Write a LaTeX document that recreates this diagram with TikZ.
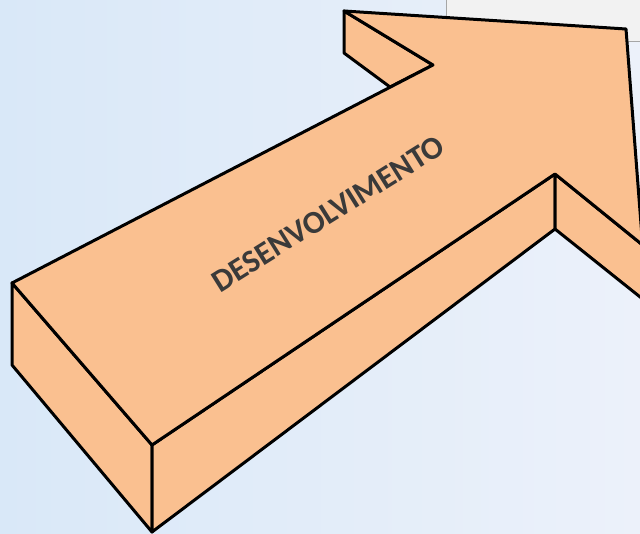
\documentclass[tikz,border=0pt]{standalone}
\usepackage{fontspec}
\setmainfont{Carlito}
\definecolor{peach}{HTML}{FAC090}
\definecolor{bgL}{HTML}{D9E8F8}
\definecolor{bgR}{HTML}{ECF1FA}
\definecolor{txt}{HTML}{3A3A3A}
\definecolor{boxg}{HTML}{F2F2F2}
\definecolor{boxl}{HTML}{A6A6A6}
\begin{document}
\begin{tikzpicture}[x=1pt,y=-1pt,
  face/.style={fill=peach,draw=black,line width=3pt,line join=round},
  label/.style={text=txt,font=\bfseries\fontsize{32}{32}\selectfont,inner sep=0pt}]
\useasboundingbox (0,0) rectangle (640,534);
\clip (0,0) rectangle (640,534);
\shade[left color=bgL,right color=bgR] (0,0) rectangle (640,534);
\fill[boxg] (446,-5) rectangle (650,42);
\draw[boxl,line width=1pt] (446,-5) -- (446,42) -- (650,42);
% key points
\coordinate (A) at (12,283);
\coordinate (Ad) at (12,365);
\coordinate (B) at (152,445);
\coordinate (Bd) at (152,532);
\coordinate (C) at (555,174);
\coordinate (Cd) at (555,229);
\coordinate (T) at (642.6,245);
\coordinate (Td) at (642.6,299);
\coordinate (W) at (344,11);
\coordinate (Wd) at (344,53);
\coordinate (N) at (433,65);
\coordinate (M) at (390,87);
\coordinate (H) at (626,29);
% side faces
\draw[face] (A) -- (B) -- (Bd) -- (Ad) -- cycle;
\draw[face] (B) -- (C) -- (Cd) -- (Bd) -- cycle;
\draw[face] (C) -- (T) -- (Td) -- (Cd) -- cycle;
\draw[face] (W) -- (N) -- (M) -- (Wd) -- cycle;
% top face
\draw[face] (A) -- (N) -- (W) -- (H) -- (T) -- (C) -- (B) -- cycle;
\node[label,rotate=32] (t) at (328.5,213.5) {DESENVOLVIMENTO};
\end{tikzpicture}
\end{document}
